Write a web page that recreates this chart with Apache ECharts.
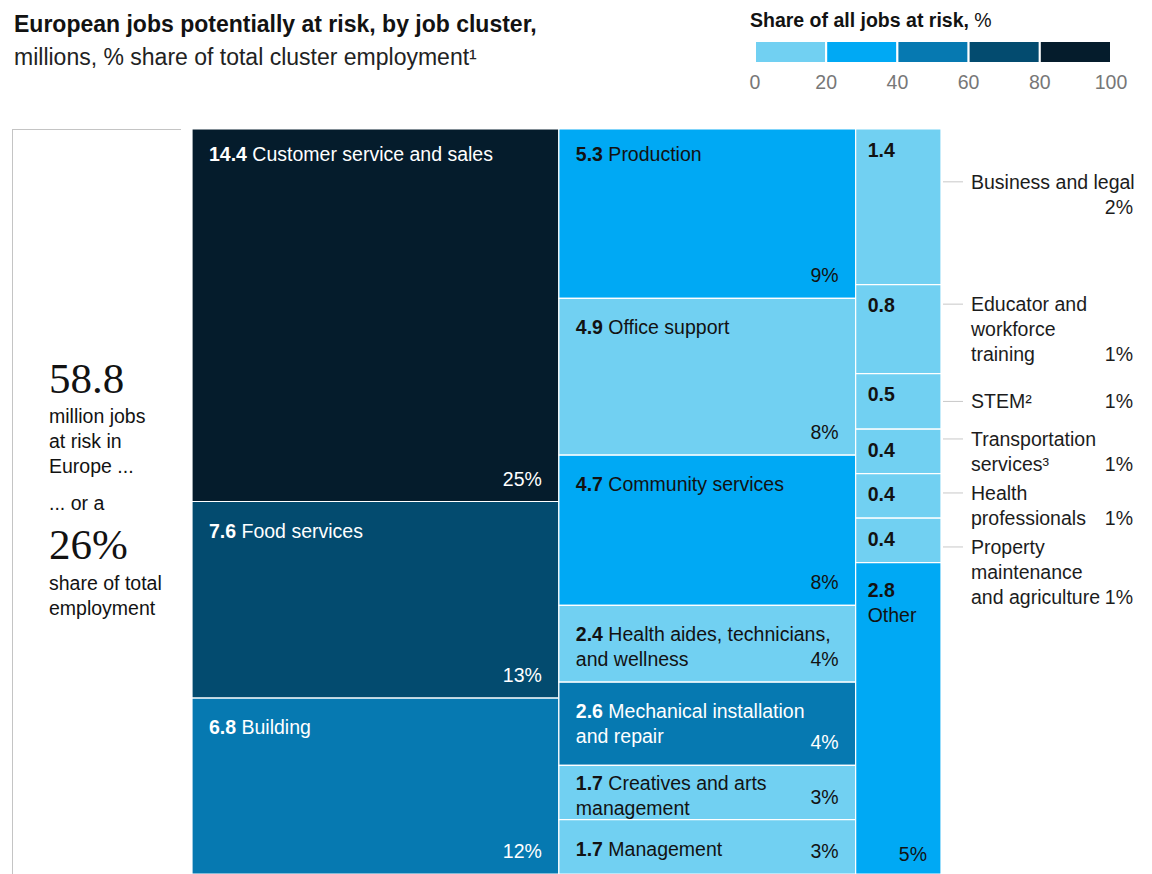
<!DOCTYPE html>
<html><head><meta charset="utf-8">
<script src="https://cdn.jsdelivr.net/npm/echarts@6/dist/echarts.min.js"></script>
<style>html,body{margin:0;padding:0;background:#fff}#c{width:1152px;height:874px}</style>
</head><body><div id="c"></div>
<script>
// ---------------- data ----------------
const clusters = [
  'Customer service and sales', 'Food services', 'Building',
  'Production', 'Office support', 'Community services',
  'Health aides, technicians,\nand wellness', 'Mechanical installation\nand repair',
  'Creatives and arts\nmanagement', 'Management',
  'Business and legal', 'Educator and\nworkforce\ntraining', 'STEM²',
  'Transportation\nservices³', 'Health\nprofessionals',
  'Property\nmaintenance\nand agriculture', 'Other'
];
const jobsAtRiskMillions = [14.4, 7.6, 6.8, 5.3, 4.9, 4.7, 2.4, 2.6, 1.7, 1.7, 1.4, 0.8, 0.5, 0.4, 0.4, 0.4, 2.8];
const shareOfClusterEmployment = [25, 13, 12, 9, 8, 8, 4, 4, 3, 3, 2, 1, 1, 1, 1, 1, 5];
const treemapColumn = [0, 0, 0, 1, 1, 1, 1, 1, 1, 1, 2, 2, 2, 2, 2, 2, 2];
// estimated share of all jobs at risk (%), read from colour band
const shareOfAllJobsAtRisk = [90, 70, 50, 30, 10, 30, 10, 50, 10, 10, 10, 10, 10, 10, 10, 10, 30];
const legendTicks = [0, 20, 40, 60, 80, 100];
const totalJobsAtRisk = 58.8;
const totalShareOfEmployment = 26;

// ---------------- styling ----------------
const F = '"Liberation Sans", Arial, sans-serif';
const SERIF = '"Liberation Serif", "Times New Roman", serif';
const bandColors = ['#71D0F2', '#00A9F4', '#0679B1', '#034B6F', '#051C2C'];
const FS = 19.5;
const DARK = '#121212';
function bandOf(v) { return Math.min(bandColors.length - 1, Math.floor(v / 20)); }

// ---------------- layout from data ----------------
const colTotals = [0, 0, 0];
jobsAtRiskMillions.forEach((v, i) => colTotals[treemapColumn[i]] += v);
const colStart = [0];
for (let c = 1; c < colTotals.length; c++) colStart[c] = colStart[c - 1] + colTotals[c - 1];
const xMax = colStart[colTotals.length - 1] + colTotals[colTotals.length - 1];
const cum = [0, 0, 0];
const cellData = jobsAtRiskMillions.map((v, i) => {
  const c = treemapColumn[i];
  const y0 = cum[c] / colTotals[c];
  cum[c] += v;
  const y1 = cum[c] / colTotals[c];
  return [colStart[c], colStart[c] + colTotals[c], y0, y1, i];
});
const lastIdx = clusters.length - 1;
function nameInside(i) { return treemapColumn[i] < 2 || i === lastIdx; }

const legendBands = legendTicks.slice(0, -1).map((t, k) => [t, legendTicks[k + 1], k]);

function renderCell(params, api) {
  const i = api.value(4);
  const c = treemapColumn[i];
  const p0 = api.coord([api.value(0), api.value(2)]);
  const p1 = api.coord([api.value(1), api.value(3)]);
  const x = p0[0], y = p0[1], w = p1[0] - p0[0], h = p1[1] - p0[1];
  const band = bandOf(shareOfAllJobsAtRisk[i]);
  const tc = band >= 2 ? '#ffffff' : DARK;
  const val = jobsAtRiskMillions[i].toFixed(1);
  const children = [{
    type: 'rect', shape: { x: x, y: y, width: w, height: h },
    style: { fill: bandColors[band], stroke: '#ffffff', lineWidth: 1.2 }
  }];
  if (c < 2) {
    const n = clusters[i].split('\n').length;
    const pref = api.value(2) === 0 ? 25 : 29;
    const first = Math.min(pref, (h - n * 25) / 2 + 16);
    children.push({
      type: 'text', silent: true,
      style: {
        x: x + 17, y: y + first - 12.5, text: '{b|' + val + '} ' + clusters[i],
        fontFamily: F, fontSize: FS, fill: tc, lineHeight: 25, verticalAlign: 'top',
        rich: { b: { fontFamily: F, fontSize: FS, fontWeight: 'bold', fill: tc, lineHeight: 25 } }
      }
    });
    children.push({
      type: 'text', silent: true,
      style: {
        x: x + w - 17, y: y + h - 23, text: shareOfClusterEmployment[i] + '%',
        fontFamily: F, fontSize: FS, fill: tc, align: 'right', verticalAlign: 'middle'
      }
    });
  } else {
    const inside = nameInside(i);
    children.push({
      type: 'text', silent: true,
      style: {
        x: x + 12, y: y + (inside ? 15 : 8),
        text: '{b|' + val + '}' + (inside ? '\n' + clusters[i] : ''),
        fontFamily: F, fontSize: FS, fill: tc, lineHeight: 25, verticalAlign: 'top',
        rich: { b: { fontFamily: F, fontSize: FS, fontWeight: 'bold', fill: tc, lineHeight: 25 } }
      }
    });
    if (inside) {
      children.push({
        type: 'text', silent: true,
        style: {
          x: x + w - 14, y: y + h - 20, text: shareOfClusterEmployment[i] + '%',
          fontFamily: F, fontSize: FS, fill: tc, align: 'right', verticalAlign: 'middle'
        }
      });
    }
  }
  return { type: 'group', children: children };
}

function renderBand(params, api) {
  const a = api.coord([api.value(0), 0]);
  const b = api.coord([api.value(1), 0]);
  const hh = api.size([0, 1])[1];
  return {
    type: 'rect',
    shape: { x: a[0], y: a[1] - hh / 2, width: b[0] - a[0], height: hh },
    style: { fill: bandColors[api.value(2)], stroke: '#ffffff', lineWidth: 2 }
  };
}

const chart = echarts.init(document.getElementById('c'), null, { renderer: 'svg' });
const option = {
  animation: false,
  backgroundColor: '#ffffff',
  grid: [
    { left: 192, right: 211, top: 129, bottom: 0 },
    { left: 755, right: 41, top: 41, height: 22 }
  ],
  xAxis: [
    { gridIndex: 0, type: 'value', min: 0, max: xMax, show: false },
    {
      gridIndex: 1, type: 'value', min: 0, max: 100, interval: 20,
      axisLine: { show: false }, axisTick: { show: false }, splitLine: { show: false },
      axisLabel: { color: '#777777', fontFamily: F, fontSize: FS, margin: 9 }
    }
  ],
  yAxis: [
    { gridIndex: 0, type: 'value', min: 0, max: 1, inverse: true, show: false },
    { gridIndex: 1, type: 'category', data: ['band'], show: false }
  ],
  series: [
    {
      type: 'custom', xAxisIndex: 0, yAxisIndex: 0, renderItem: renderCell,
      data: cellData, encode: { x: [0, 1], y: [2, 3] }, silent: true
    },
    {
      type: 'custom', xAxisIndex: 1, yAxisIndex: 1, renderItem: renderBand,
      data: legendBands, encode: { x: [0, 1] }, silent: true
    }
  ]
};
chart.setOption(option);

// ---------------- text & external labels ----------------
const ctx = document.createElement('canvas').getContext('2d');
ctx.font = FS + 'px ' + F;
const graphics = [];
function txt(x, y, text, extra) {
  graphics.push({
    type: 'text', x: x, y: y, silent: true,
    style: Object.assign({ text: text, fontFamily: F, fontSize: FS, fill: DARK, verticalAlign: 'middle' }, extra || {})
  });
}
// titles
txt(14, 24, 'European jobs potentially at risk, by job cluster,', { fontSize: 23, fontWeight: 'bold' });
txt(14, 57, 'millions, % share of total cluster employment¹', { fontSize: 23, fill: '#222222' });
txt(750, 20, '{b|Share of all jobs at risk,} %', {
  fontSize: FS, rich: { b: { fontFamily: F, fontSize: FS, fontWeight: 'bold', fill: DARK } }
});
// left summary panel
graphics.push({ type: 'line', silent: true, shape: { x1: 12, y1: 129.5, x2: 181, y2: 129.5 }, style: { stroke: '#c4c4c4', lineWidth: 1 } });
graphics.push({ type: 'line', silent: true, shape: { x1: 12.5, y1: 129, x2: 12.5, y2: 874 }, style: { stroke: '#c4c4c4', lineWidth: 1 } });
txt(49, 378, String(totalJobsAtRisk), { fontFamily: SERIF, fontSize: 43 });
txt(49, 416, 'million jobs');
txt(49, 441, 'at risk in');
txt(49, 466, 'Europe ...');
txt(49, 503, '... or a');
txt(49, 544, totalShareOfEmployment + '%', { fontFamily: SERIF, fontSize: 43 });
txt(49, 583, 'share of total');
txt(49, 608, 'employment');

// external labels for the narrow column
let prevBottom = -Infinity;
cellData.forEach(d => {
  const i = d[4];
  if (nameInside(i)) return;
  const pa = chart.convertToPixel({ gridIndex: 0 }, [d[1], d[2]]);
  const pb = chart.convertToPixel({ gridIndex: 0 }, [d[1], d[3]]);
  const right = pa[0], top = pa[1], bottom = pb[1];
  const cy = (top + bottom) / 2;
  const lines = clusters[i].split('\n');
  const pct = shareOfClusterEmployment[i] + '%';
  const LX = right + 30, PX = right + 192;
  const ownLine = ctx.measureText(lines[lines.length - 1]).width + ctx.measureText(pct).width > PX - LX;
  const n = lines.length + (ownLine ? 1 : 0);
  const H = n * 25;
  const centre = ownLine ? cy - 12.5 : cy;
  const t = Math.max(centre - H / 2, prevBottom + 4);
  prevBottom = t + H;
  const firstY = t + 12.5;
  graphics.push({ type: 'line', silent: true, shape: { x1: right + 2, y1: firstY, x2: right + 22, y2: firstY }, style: { stroke: '#c8c8c8', lineWidth: 1 } });
  txt(LX, t, lines.join('\n'), { verticalAlign: 'top', lineHeight: 25, fill: '#1c1c1c' });
  txt(PX, firstY + (n - 1) * 25, pct, { align: 'right', fill: '#1c1c1c' });
});
chart.setOption({ graphic: graphics });
</script>
</body></html>
